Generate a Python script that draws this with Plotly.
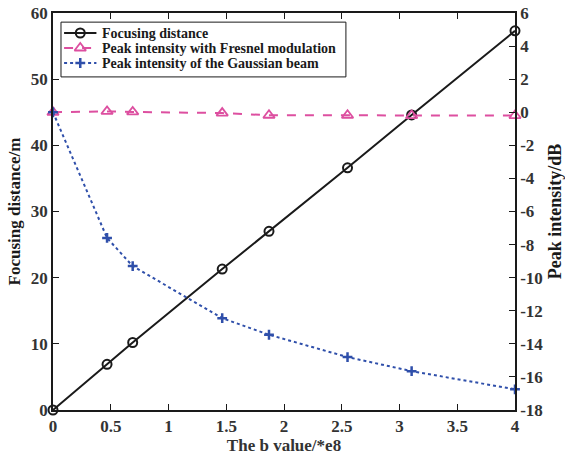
import plotly.graph_objects as go

b_values = [0, 0.468, 0.69, 1.465, 1.87, 2.55, 3.105, 4.0]
focusing_distance = [0, 6.9, 10.2, 21.3, 27.0, 36.6, 44.6, 57.3]
fresnel_peak = [0, 0.05, 0.02, -0.05, -0.18, -0.18, -0.2, -0.2]
gaussian_peak = [0, -7.6, -9.3, -12.45, -13.45, -14.8, -15.65, -16.75]

series_names = ["Focusing distance",
                "Peak intensity with Fresnel modulation",
                "Peak intensity of the Gaussian beam"]

x_ticks = [0, 0.5, 1, 1.5, 2, 2.5, 3, 3.5, 4]
x_ticktext = ["0", "0.5", "1", "1.5", "2", "2.5", "3", "3.5", "4"]
y1_ticks = [0, 10, 20, 30, 40, 50, 60]
y2_ticks = list(range(-18, 7, 2))
y2_ticktext = [str(v) for v in y2_ticks]

FONT = "Liberation Serif"
BLACK = "#1a1a1a"
TICKC = "#333333"
PINK = "#DD4FA0"
BLUE = "#2F4FAA"

styles = [
    dict(line=dict(color=BLACK, width=2),
         marker=dict(symbol="circle-open", size=9, color=BLACK, line=dict(width=2))),
    dict(line=dict(color=PINK, width=2, dash="dash"),
         marker=dict(symbol="triangle-up-open", size=10, color=PINK, line=dict(width=1.8))),
    dict(line=dict(color=BLUE, width=2, dash="dot"),
         marker=dict(symbol="cross-thin-open", size=7, color=BLUE, line=dict(width=2.5, color=BLUE))),
]

fig = go.Figure()
for ys, yax, st in zip([focusing_distance, fresnel_peak, gaussian_peak], ["y", "y2", "y2"], styles):
    fig.add_trace(go.Scatter(x=b_values, y=ys, mode="lines+markers",
                             line=st["line"], marker=st["marker"],
                             cliponaxis=False, yaxis=yax, showlegend=False))

# ---- manual legend (paper coordinates of the plot area) ----
L_X0, L_X1, L_Y0, L_Y1 = 0.0173, 0.634, 0.839, 0.977
row_y = [0.9496, 0.9118, 0.874]
seg_x0, seg_x1, mark_x, text_x = 0.024, 0.094, 0.059, 0.101

fig.add_shape(type="rect", xref="paper", yref="paper", x0=L_X0, x1=L_X1, y0=L_Y0, y1=L_Y1,
              line=dict(color=BLACK, width=1), fillcolor="white", layer="below")
for ry, name, st in zip(row_y, series_names, styles):
    fig.add_shape(type="line", xref="paper", yref="paper", x0=seg_x0, x1=seg_x1, y0=ry, y1=ry,
                  line=dict(color=st["line"]["color"], width=2, dash=st["line"].get("dash", "solid")),
                  layer="below")
    fig.add_trace(go.Scatter(x=[mark_x], y=[ry], mode="markers", marker=st["marker"],
                             xaxis="x2", yaxis="y3", showlegend=False, hoverinfo="skip",
                             cliponaxis=False))
    fig.add_annotation(xref="paper", yref="paper", x=text_x, y=ry, xanchor="left", yanchor="middle",
                       text=f"<b>{name}</b>", showarrow=False,
                       font=dict(family=FONT, size=14, color=BLACK))

axis_common = dict(
    showgrid=False, zeroline=False, showline=True, linecolor=BLACK, linewidth=1.5,
    ticks="inside", ticklen=6, tickwidth=1.2, tickcolor=BLACK, automargin=False,
    tickfont=dict(family=FONT, size=17, color=TICKC),
)

fig.update_layout(
    width=565, height=457,
    margin=dict(l=53, r=50, t=13, b=47),
    paper_bgcolor="white", plot_bgcolor="white",
    font=dict(family=FONT, color=BLACK),
    showlegend=False,
    xaxis=dict(
        range=[0, 4], tickvals=x_ticks, ticktext=[f"<b>{t}</b>" for t in x_ticktext], mirror="ticks",
        title=dict(text="<b>The b value/*e8</b>", font=dict(family=FONT, size=17, color=TICKC), standoff=2),
        **axis_common),
    yaxis=dict(
        range=[0, 60], tickvals=y1_ticks, ticktext=[f"<b>{v}</b>" for v in y1_ticks],
        title=dict(text="<b>Focusing distance/m</b>", font=dict(family=FONT, size=17, color=BLACK), standoff=6),
        **axis_common),
    yaxis2=dict(
        range=[-18, 6], tickvals=y2_ticks, ticktext=[f"<b>{t}</b>" for t in y2_ticktext],
        overlaying="y", side="right",
        title=dict(text="<b>Peak intensity/dB</b>", font=dict(family=FONT, size=18, color=BLACK), standoff=6),
        **axis_common),
    xaxis2=dict(range=[0, 1], overlaying="x", visible=False, fixedrange=True),
    yaxis3=dict(range=[0, 1], overlaying="y", visible=False, fixedrange=True),
)

fig.write_html("out.html")
